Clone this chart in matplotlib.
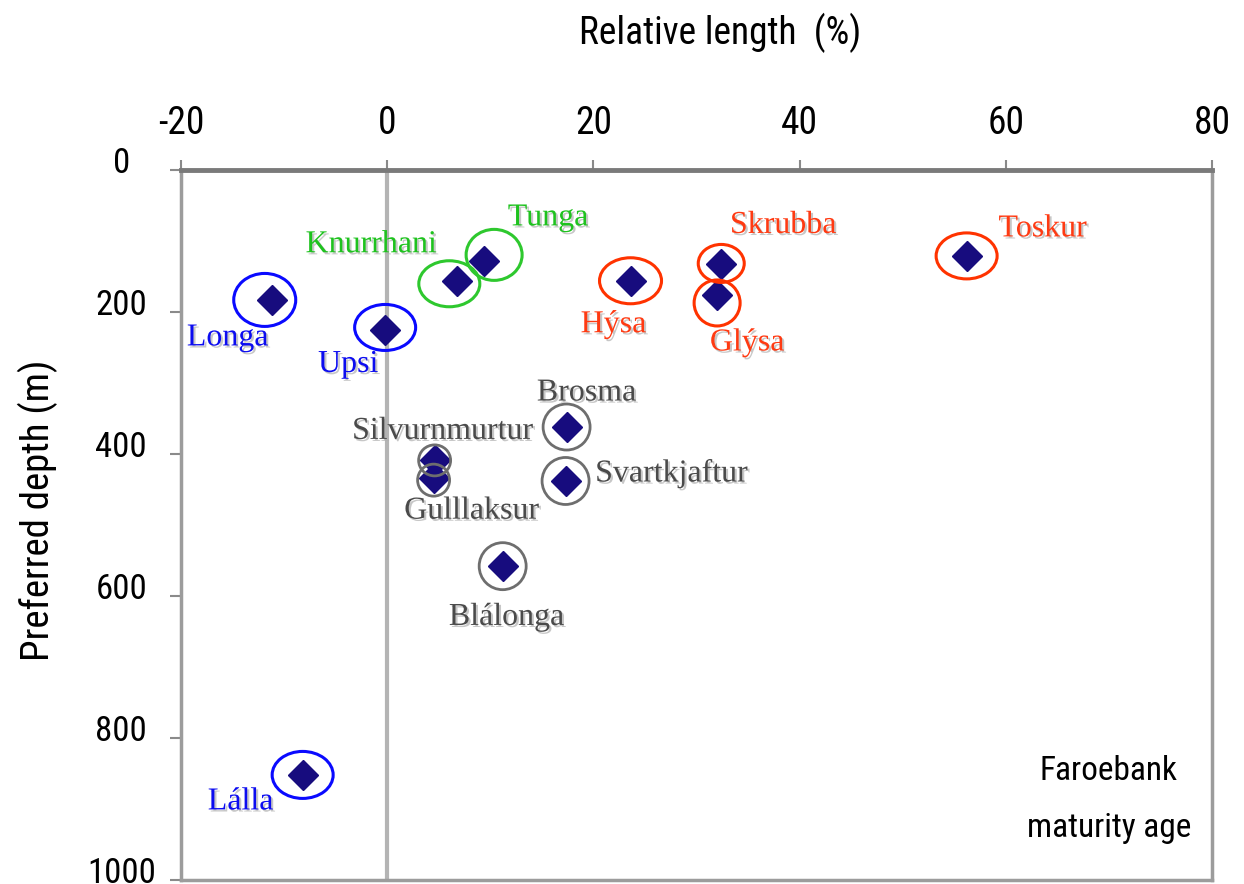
import os
import matplotlib
matplotlib.use("Agg")
import matplotlib.pyplot as plt
import matplotlib.patheffects as pe
from matplotlib import font_manager
from matplotlib.patches import Ellipse
from matplotlib.transforms import ScaledTranslation

# species, relative length at maturity (%), preferred depth (m)
species = ["Longa", "Upsi", "Knurrhani", "Tunga", "Hýsa", "Skrubba", "Glýsa",
           "Toskur", "Brosma", "Silvurnmurtur", "Gulllaksur", "Svartkjaftur",
           "Blálonga", "Lálla"]
rel_length = [-11.2, -0.2, 6.8, 9.4, 23.6, 32.4, 32.0, 56.2, 17.4, 4.6, 4.5, 17.3, 11.2, -8.2]
depth = [183, 226, 156, 128, 156, 133, 176, 121, 362, 409, 434, 438, 558, 852]
group = ["blue", "blue", "green", "green", "red", "red", "red", "red",
         "grey", "grey", "grey", "grey", "grey", "blue"]

xticks = [-20, 0, 20, 40, 60, 80]
yticks = [0, 200, 400, 600, 800, 1000]

# layout (pixels): label offset, ring size, ring offset
label_off = [(-44, -38), (-37, -34), (-86, 36), (64, 43), (-17, -44), (62, 39), (30, -48),
             (76, 27), (20, 34), (8, 29), (38, -33), (106, 7), (4, -51), (-62, -27)]
ring_size = [(62, 53), (61, 46), (61, 46), (56, 51), (62, 46), (46, 38), (46, 46),
             (61, 46), (47, 46), (32, 31), (32, 32), (47, 47), (47, 47), (61, 47)]
ring_off = [(-7, 0), (0, 3), (-8, -3), (10, 6), (0, 0), (0, 1), (0, -8),
            (0, 0), (0, 0), (0, 0), (0, -2), (0, 0), (0, 0), (0, 0)]

text_col = {"blue": "#0c0cf0", "green": "#1ec21e", "red": "#ff3a12", "grey": "#4a4a4a"}
ring_col = {"blue": "#0a0aff", "green": "#2ec82e", "red": "#ff3300", "grey": "#6e6e6e"}


def narrow_font():
    files = [f.fname for f in font_manager.fontManager.ttflist]
    for key in ["RobotoCondensed-Regular.", "NotoSans-ExtraCondensed.", "NotoSans-Condensed.",
                "LiberationSansNarrow-Regular.", "DejaVuSansCondensed."]:
        for fn in files:
            if os.path.basename(fn).startswith(key):
                return fn
    return None


font_file = narrow_font()


def sans(size):
    if font_file:
        return font_manager.FontProperties(fname=font_file, size=size)
    return font_manager.FontProperties(family="Liberation Sans", size=size * 0.85)


plt.rcParams["axes.unicode_minus"] = False

fig = plt.figure(figsize=(12.44, 8.84), dpi=100)
ax = fig.add_axes([181 / 1244, 1 - 880 / 884, 1031 / 1244, 710 / 884])

ax.set_xlim(-20, 80)
ax.set_ylim(1000, 0)
ax.set_xticks(xticks)
ax.set_yticks(yticks)
ax.xaxis.tick_top()

ax.axvline(0, color="#b4b4b4", lw=3, zorder=1)

for side in ["left", "right", "bottom"]:
    ax.spines[side].set_color("#9c9c9c")
    ax.spines[side].set_linewidth(2.5)
ax.spines["top"].set_color("#7a7a7a")
ax.spines["top"].set_linewidth(3.5)

ax.tick_params(axis="x", direction="out", length=7, width=1.5, color="#8a8a8a",
               pad=13, top=True, bottom=False)
ax.tick_params(axis="y", direction="out", length=8, width=1.5, color="#8a8a8a", pad=35)
for lab in ax.get_xticklabels():
    lab.set_fontproperties(sans(27))
for lab in ax.get_yticklabels():
    lab.set_fontproperties(sans(25))
    lab.set_horizontalalignment("center")
    lab.set_transform(lab.get_transform() + ScaledTranslation(0, 0.1, fig.dpi_scale_trans))

ax.plot(rel_length, depth, "D", ms=15, color="#170c7e", zorder=4)

shadow = [pe.withSimplePatchShadow(offset=(1.5, -1.5), shadow_rgbFace="#b0b0b0", alpha=0.7)]
for i, name in enumerate(species):
    x, y = rel_length[i], depth[i]
    w, h = ring_size[i]
    dx, dy = ring_off[i]
    tr = (fig.dpi_scale_trans + ScaledTranslation(x, y, ax.transData)
          + ScaledTranslation(dx / 100, dy / 100, fig.dpi_scale_trans))
    ring = Ellipse((0, 0), w / 100, h / 100, transform=tr, fill=False,
                   ec=ring_col[group[i]], lw=2.0 if group[i] == "grey" else 2.2,
                   zorder=5, clip_on=False)
    ax.add_patch(ring)
    ax.annotate(name, (x, y), xytext=label_off[i], textcoords="offset pixels",
                ha="center", va="center", fontsize=23, family="Liberation Serif",
                color=text_col[group[i]], path_effects=shadow, zorder=6)

ax.set_xlabel("Relative length  (%)", fontproperties=sans(27))
ax.xaxis.set_label_position("top")
ax.xaxis.set_label_coords(0.523, 1.193)
ax.xaxis.label.set_va("center")

ax.set_ylabel("Preferred depth (m)", fontproperties=sans(28))
ax.yaxis.set_label_coords(-0.1387, 0.52)
ax.yaxis.label.set_va("center")

ax.text(0.9, 0.113, "Faroebank\nmaturity age", transform=ax.transAxes, ha="center",
        va="center", fontproperties=sans(24), linespacing=2.0)

fig.savefig("out.png", dpi=100)
